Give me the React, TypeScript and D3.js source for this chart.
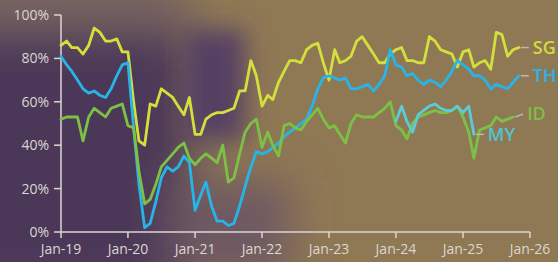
import * as d3 from "d3";
import React, { useMemo } from "react";

// monthly values starting Jan-19 (index 0)
const sgValues = [
  86, 88, 85, 85, 82, 86, 94, 92, 88, 88, 89, 83, 83, 60, 42, 40, 59, 58, 66, 64,
  62, 58, 54, 62, 45, 45, 52, 54, 55, 55, 56, 57, 65, 65, 79, 72, 58, 63, 61, 69,
  74, 79, 79, 78, 84, 86, 87, 78, 70, 84, 78, 79, 81, 88, 90, 86, 82, 78, 78, 82,
  84, 85, 79, 79, 78, 78, 90, 88, 84, 83, 82, 76, 83, 84, 76, 78, 79, 75, 92, 91,
  81, 84, 85,
];
const thValues = [
  81, 77, 74, 70, 66, 64, 65, 63, 62, 66, 72, 77, 78, 48, 22, 2, 4, 14, 25, 30,
  28, 30, 35, 32, 10, 17, 23, 12, 5, 5, 3, 4, 12, 21, 30, 37, 36, 37, 39, 41,
  44, 46, 48, 50, 52, 58, 66, 71, 72, 71, 70, 71, 66, 66, 67, 68, 65, 68, 72, 84,
  77, 76, 72, 73, 70, 68, 70, 69, 67, 70, 74, 79, 77, 75, 72, 72, 70, 66, 68, 67,
  66, 69, 72,
];
const idValues = [
  52, 53, 53, 53, 42, 53, 57, 55, 53, 57, 58, 59, 49, 48, 28, 13, 15, 22, 30, 33,
  36, 39, 41, 34, 31, 34, 36, 34, 32, 40, 23, 25, 36, 46, 50, 52, 39, 46, 40, 35,
  49, 50, 48, 47, 51, 54, 57, 52, 48, 49, 45, 41, 50, 54, 53, 53, 53, 55, 57, 60,
  49, 47, 43, 50, 53, 54, 55, 56, 55, 55, 56, 58, 53, 46, 34, 47, 48, 49, 53, 51,
  52, 53,
];
// MY starts Jan-24
const myStart = 60;
const myValues = [51, 58, 51, 46, 54, 56, 58, 59, 57, 56, 56, 58, 55, 58, 45];

const yTicks = [0, 20, 40, 60, 80, 100];
const xTickYears = [2019, 2020, 2021, 2022, 2023, 2024, 2025, 2026];

const series = [
  { name: "SG", values: sgValues, start: 0, color: "#d3e03a", labelColor: "#d0dc3c", dy: 0 },
  { name: "TH", values: thValues, start: 0, color: "#28b5e9", labelColor: "#26b4ea", dy: 0 },
  { name: "ID", values: idValues, start: 0, color: "#7cc144", labelColor: "#7cc043", dy: -3 },
  { name: "MY", values: myValues, start: myStart, color: "#5ccbd6", labelColor: "#52c3d2", dy: 0 },
];

const W = 558;
const H = 262;
const margin = { left: 61, right: 28, top: 15, bottom: 30 };

export default function App() {
  const x = useMemo(
    () =>
      d3
        .scaleTime()
        .domain([new Date(2019, 0, 1), new Date(2026, 0, 1)])
        .range([margin.left, W - margin.right]),
    []
  );
  const y = useMemo(
    () => d3.scaleLinear().domain([0, 100]).range([H - margin.bottom, margin.top]),
    []
  );

  const line = d3
    .line<[number, number]>()
    .x((d) => x(new Date(2019, d[0], 1)))
    .y((d) => y(d[1]));

  const axisColor = "#dcd6d0";
  const font = "'Open Sans', sans-serif";

  return (
    <svg width={W} height={H} style={{ position: "absolute", left: 0, top: 0 }}>
      <defs>
        <filter id="blur" x="-50%" y="-50%" width="200%" height="200%">
          <feGaussianBlur stdDeviation="22" />
        </filter>
        <filter id="blur2" x="-50%" y="-50%" width="200%" height="200%">
          <feGaussianBlur stdDeviation="12" />
        </filter>
        <filter id="soft">
          <feGaussianBlur stdDeviation="0.35" />
        </filter>
      </defs>
      <rect x={0} y={0} width={W} height={H} fill="#8f7854" />
      <g filter="url(#blur)">
        <rect x={-60} y={-20} width={250} height={320} fill="#4c3858" />
        <rect x={-40} y={-40} width={230} height={70} fill="#786560" />
        <rect x={170} y={180} width={120} height={100} fill="#6e5862" />
      </g>
      <g filter="url(#blur2)">
        <rect x={185} y={30} width={60} height={110} fill="#554163" />
      </g>

      {/* y axis */}
      <line x1={margin.left} x2={margin.left} y1={y(100)} y2={y(0)} stroke={axisColor} strokeWidth={1.5} />
      {yTicks.map((t) => (
        <g key={t}>
          <line x1={margin.left - 7} x2={margin.left} y1={y(t)} y2={y(t)} stroke={axisColor} strokeWidth={1.5} />
          <text
            x={margin.left - 12}
            y={y(t)}
            dy="0.35em"
            textAnchor="end"
            fill={axisColor}
            fontFamily={font}
            fontSize={14}
          >
            {t}%
          </text>
        </g>
      ))}

      {/* x axis */}
      <line x1={margin.left} x2={W - margin.right} y1={y(0)} y2={y(0)} stroke={axisColor} strokeWidth={1.5} />
      {xTickYears.map((yr) => {
        const px = x(new Date(yr, 0, 1));
        return (
          <g key={yr}>
            <line x1={px} x2={px} y1={y(0)} y2={y(0) + 6} stroke={axisColor} strokeWidth={1.5} />
            <text
              x={px}
              y={y(0) + 22}
              textAnchor="middle"
              fill={axisColor}
              fontFamily={font}
              fontSize={14}
            >
              {`Jan-${String(yr).slice(2)}`}
            </text>
          </g>
        );
      })}

      {/* lines */}
      <g filter="url(#soft)">
        {series.map((s) => {
          const pts: [number, number][] = s.values.map((v, i) => [s.start + i, v]);
          return (
            <path
              key={s.name}
              d={line(pts) || ""}
              fill="none"
              stroke={s.color}
              strokeWidth={2.8}
              strokeLinejoin="round"
              strokeLinecap="round"
            />
          );
        })}
      </g>

      {/* end labels */}
      {series.map((s) => {
        const last = s.values.length - 1;
        const ex = x(new Date(2019, s.start + last, 1));
        const ey = y(s.values[last]);
        const lx = ex + 12;
        const ly = ey + s.dy;
        return (
          <g key={s.name + "-label"}>
            <line x1={ex + 2} x2={lx - 2} y1={ey} y2={ly} stroke="#bdb6b2" strokeWidth={1.5} />
            <text
              x={lx + 2}
              y={ly}
              dy="0.36em"
              fill={s.labelColor}
              fontFamily={font}
              fontWeight={600}
              fontSize={18}
            >
              {s.name}
            </text>
          </g>
        );
      })}
    </svg>
  );
}
